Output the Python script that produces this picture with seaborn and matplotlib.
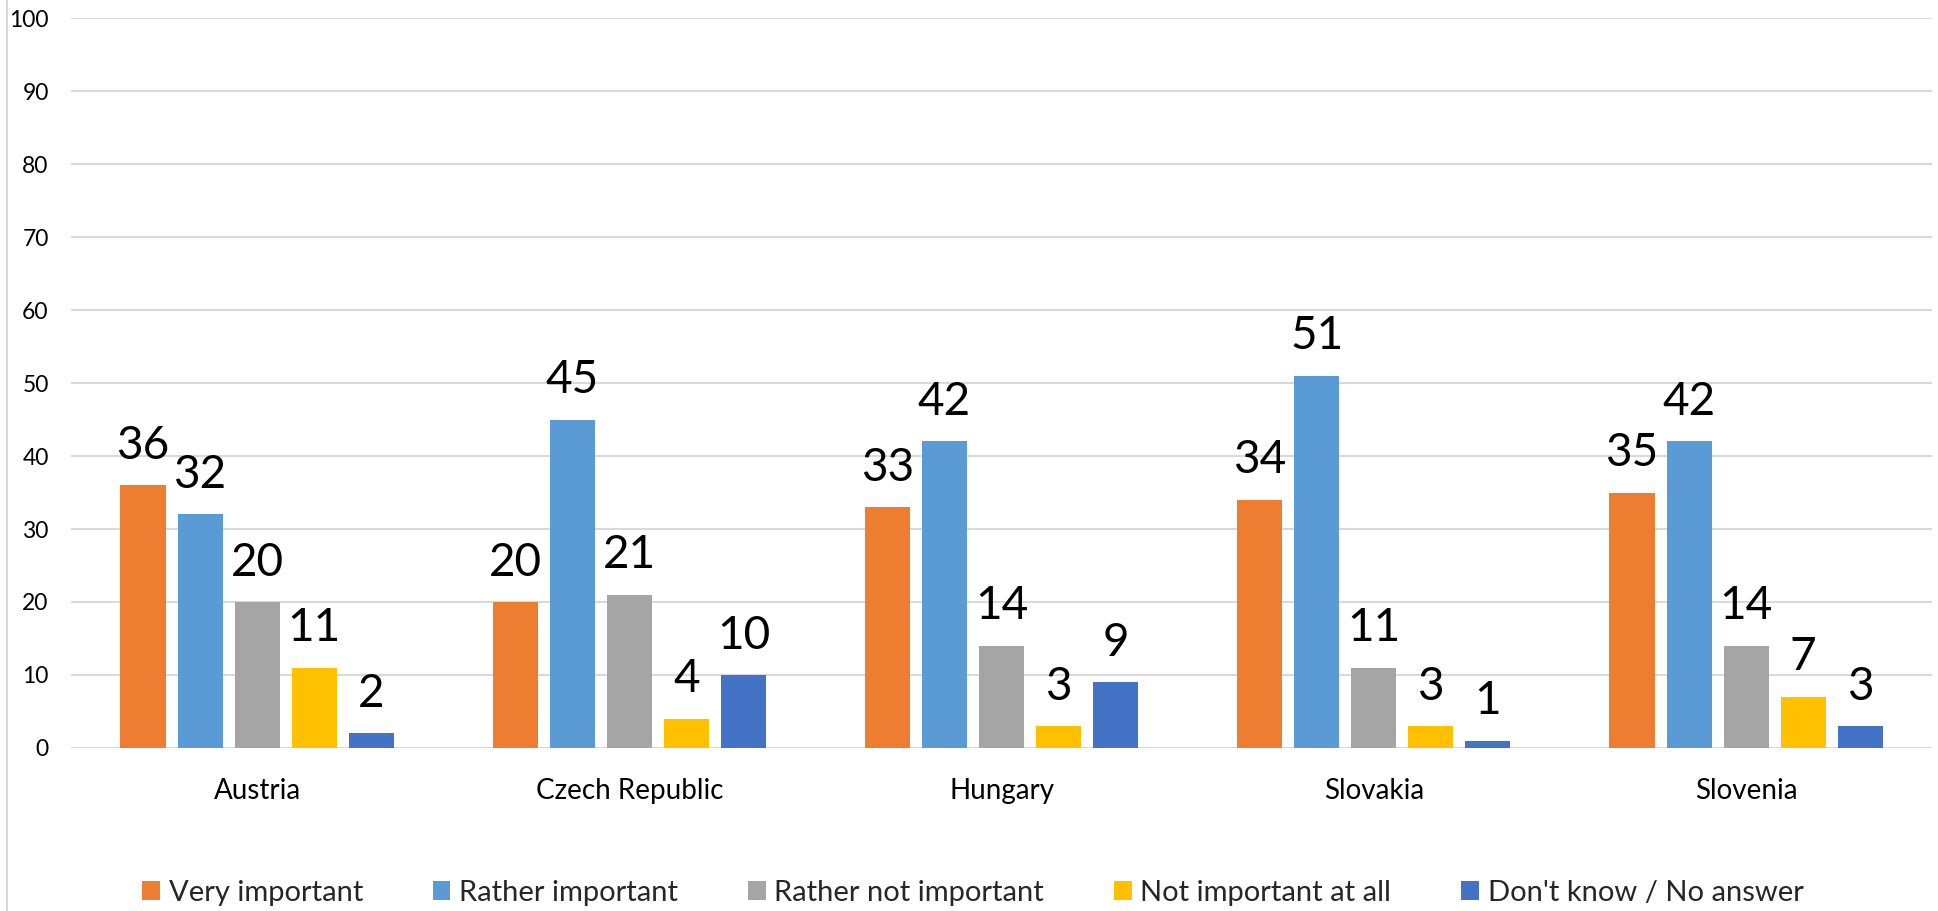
import matplotlib
matplotlib.use("Agg")
import matplotlib.pyplot as plt
from matplotlib.patches import Patch
from matplotlib.lines import Line2D
import pandas as pd
import seaborn as sns

countries = ["Austria", "Czech Republic", "Hungary", "Slovakia", "Slovenia"]
answers = ["Very important", "Rather important", "Rather not important",
           "Not important at all", "Don't know / No answer"]
very_important = [36, 20, 33, 34, 35]
rather_important = [32, 45, 42, 51, 42]
rather_not_important = [20, 21, 14, 11, 14]
not_important_at_all = [11, 4, 3, 3, 7]
dont_know = [2, 10, 9, 1, 3]
y_ticks = [0, 10, 20, 30, 40, 50, 60, 70, 80, 90, 100]

colors = ["#ED7D31", "#5B9BD5", "#A5A5A5", "#FFC000", "#4472C4"]

series = [very_important, rather_important, rather_not_important,
          not_important_at_all, dont_know]
rows = []
for answer, vals in zip(answers, series):
    for c, v in zip(countries, vals):
        rows.append({"Country": c, "Answer": answer, "Value": v})
df = pd.DataFrame(rows)

sns.set_theme(style="white")
plt.rcParams["font.family"] = ["Lato", "DejaVu Sans"]

fig = plt.figure(figsize=(19.38, 9.11), dpi=100)
ax = fig.add_axes([0.0366, 0.179, 0.9604, 0.801])

sns.barplot(data=df, x="Country", y="Value", hue="Answer",
            order=countries, hue_order=answers, palette=colors,
            width=0.766, gap=0.21, saturation=1, legend=False,
            errorbar=None, linewidth=0, ax=ax, zorder=3)

for container in ax.containers:
    for bar in container:
        h = bar.get_height()
        ax.annotate(f"{h:g}", (bar.get_x() + bar.get_width() / 2, h),
                    xytext=(0, 19), textcoords="offset points",
                    ha="center", va="baseline", fontsize=33, color="black")

ax.set_ylim(0, 100)
ax.set_yticks(y_ticks)
ax.set_xlim(-0.5, len(countries) - 0.5)
ax.yaxis.grid(True, color="#D9D9D9", linewidth=1.5, zorder=0)
ax.set_axisbelow(True)
for s in ax.spines.values():
    s.set_visible(False)
ax.set_xlabel("")
ax.set_ylabel("")
ax.tick_params(axis="y", labelsize=16.5, length=0, pad=16, colors="black")
ax.tick_params(axis="x", labelsize=20, length=0, pad=22, colors="black")

# chart frame edge on the left
fig.add_artist(Line2D([0.0037, 0.0037], [0, 1], transform=fig.transFigure,
                      color="#D9D9D9", linewidth=1.5))

handles = [Patch(facecolor=c, edgecolor="none") for c in colors]
fig.legend(handles, answers, loc="center", bbox_to_anchor=(0.502, 0.02),
           ncol=5, frameon=False, fontsize=21, handlelength=0.6,
           handleheight=0.65, handletextpad=0.3, columnspacing=2.4)

fig.savefig("out.png", dpi=100)
